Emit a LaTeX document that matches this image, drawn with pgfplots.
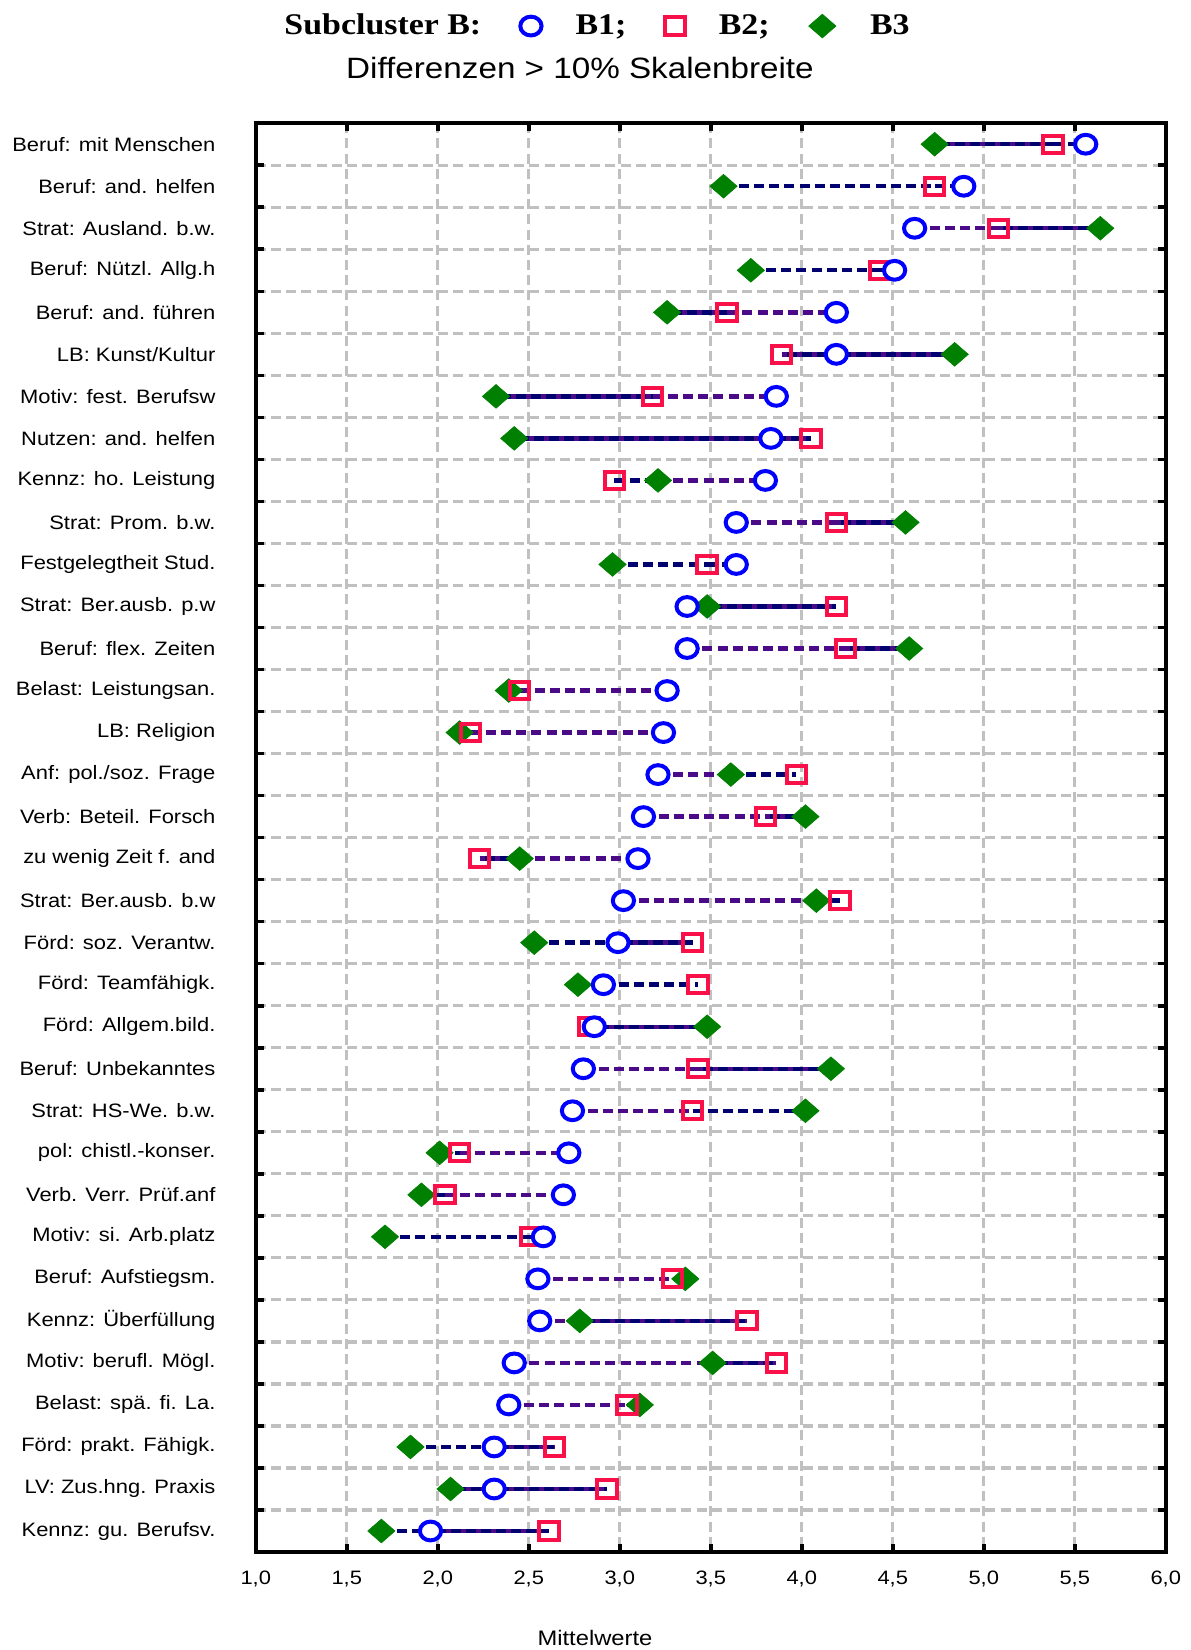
\documentclass[border=0pt]{standalone}
\usepackage{fontspec}
\setmainfont{Liberation Sans}[FakeStretch=1.13]
\newfontfamily\titlefont{Liberation Serif}[FakeStretch=1.13]
\usepackage{pgfplots}
\usepackage{pgfplotstable}
\pgfplotsset{compat=1.18}

\definecolor{cBone}{RGB}{0,0,255}
\definecolor{cBtwo}{RGB}{250,16,72}
\definecolor{cBthree}{RGB}{0,128,0}
\definecolor{lnavy}{RGB}{0,0,112}
\definecolor{lpurple}{RGB}{75,10,135}
\definecolor{gridgray}{RGB}{192,192,192}

% mean values per item and subcluster
\pgfplotstableread{
row B1 B2 B3
1 5.56 5.38 4.73
2 4.89 4.73 3.57
3 4.62 5.08 5.64
4 4.51 4.43 3.72
5 4.19 3.59 3.26
6 4.19 3.89 4.84
7 3.86 3.18 2.32
8 3.83 4.05 2.42
9 3.80 2.97 3.21
10 3.64 4.19 4.57
11 3.64 3.48 2.96
12 3.37 4.19 3.48
13 3.37 4.24 4.59
14 3.26 2.45 2.39
15 3.24 2.18 2.12
16 3.21 3.97 3.61
17 3.13 3.80 4.02
18 3.10 2.23 2.45
19 3.02 4.21 4.08
20 2.99 3.40 2.53
21 2.91 3.43 2.77
22 2.86 2.83 3.48
23 2.80 3.43 4.16
24 2.74 3.40 4.02
25 2.72 2.12 2.01
26 2.69 2.04 1.91
27 2.58 2.51 1.71
28 2.55 3.29 3.36
29 2.56 3.70 2.78
30 2.42 3.86 3.51
31 2.39 3.04 3.11
32 2.31 2.64 1.85
33 2.31 2.93 2.07
34 1.96 2.61 1.69
}\means

% connecting segments, dashed navy
\pgfplotstableread{
x y
5.38 1
5.56 1
nan nan
3.57 2
4.73 2
nan nan
4.73 2
4.89 2
nan nan
3.72 4
4.43 4
nan nan
4.43 4
4.51 4
nan nan
2.97 9
3.21 9
nan nan
2.96 11
3.48 11
nan nan
3.48 11
3.64 11
nan nan
3.37 12
3.48 12
nan nan
2.39 14
2.45 14
nan nan
2.12 15
2.18 15
nan nan
3.61 16
3.97 16
nan nan
4.08 19
4.21 19
nan nan
2.53 20
2.99 20
nan nan
2.77 21
2.91 21
nan nan
2.91 21
3.43 21
nan nan
2.83 22
2.86 22
nan nan
3.40 24
4.02 24
nan nan
2.01 25
2.12 25
nan nan
1.91 26
2.04 26
nan nan
1.71 27
2.51 27
nan nan
2.51 27
2.58 27
nan nan
3.29 28
3.36 28
nan nan
3.04 31
3.11 31
nan nan
1.85 32
2.31 32
nan nan
1.69 34
1.96 34
}\segN

% connecting segments, dashed purple
\pgfplotstableread{
x y
4.62 3
5.08 3
nan nan
3.59 5
4.19 5
nan nan
3.18 7
3.86 7
nan nan
3.21 9
3.80 9
nan nan
3.64 10
4.19 10
nan nan
3.37 13
4.24 13
nan nan
2.45 14
3.26 14
nan nan
2.18 15
3.24 15
nan nan
3.21 16
3.61 16
nan nan
3.13 17
3.80 17
nan nan
2.45 18
3.10 18
nan nan
3.02 19
4.08 19
nan nan
2.80 23
3.43 23
nan nan
2.74 24
3.40 24
nan nan
2.12 25
2.72 25
nan nan
2.04 26
2.69 26
nan nan
2.55 28
3.29 28
nan nan
2.56 29
2.78 29
nan nan
2.42 30
3.51 30
nan nan
2.39 31
3.04 31
}\segP

% connecting segments where two lines overlap (appear solid)
\pgfplotstableread{
x y
4.73 1
5.38 1
nan nan
5.08 3
5.64 3
nan nan
3.26 5
3.59 5
nan nan
3.89 6
4.19 6
nan nan
4.19 6
4.84 6
nan nan
2.32 7
3.18 7
nan nan
2.42 8
3.83 8
nan nan
3.83 8
4.05 8
nan nan
4.19 10
4.57 10
nan nan
3.48 12
4.19 12
nan nan
4.24 13
4.59 13
nan nan
3.80 17
4.02 17
nan nan
2.23 18
2.45 18
nan nan
2.99 20
3.40 20
nan nan
2.86 22
3.48 22
nan nan
3.43 23
4.16 23
nan nan
2.78 29
3.70 29
nan nan
3.51 30
3.86 30
nan nan
2.31 32
2.64 32
nan nan
2.07 33
2.31 33
nan nan
2.31 33
2.93 33
nan nan
1.96 34
2.61 34
}\segS

\pgfplotsset{
  bonemark/.style={only marks, mark=*, mark size=4.7pt,
    mark options={draw=cBone, fill=white, line width=2pt, xscale=1.13}},
  btwomark/.style={only marks, mark=square, mark size=4.3pt,
    mark options={draw=cBtwo, line width=2pt, xscale=1.13}},
  bthreemark/.style={only marks, mark=square*, mark size=4.2pt,
    mark options={draw=cBthree, fill=cBthree, line width=0.3pt, xscale=1.15, rotate=45}},
  seg/.style={line width=2.2pt, unbounded coords=jump, forget plot},
}

\begin{document}
\begin{tikzpicture}
\useasboundingbox (-127.9pt,-49pt) rectangle (467.1pt,776pt);
\begin{axis}[
  at={(0pt,0pt)}, anchor=south west,
  width=455pt, height=714.4pt, scale only axis,
  clip=false,
  xmin=1, xmax=6, ymin=0.5, ymax=34.5, y dir=reverse,
  xtick={1,1.5,...,6},
  ytick={1.5,2.5,...,33.5},
  yticklabels={},
  extra y ticks={1,2,...,34},
  extra y tick labels={Beruf: mit Menschen, Beruf: and. helfen, Strat: Ausland. b.w., Beruf: Nützl. Allg.h, Beruf: and. führen, LB: Kunst/Kultur, Motiv: fest. Berufsw, Nutzen: and. helfen, Kennz: ho. Leistung, Strat: Prom. b.w., Festgelegtheit Stud., Strat: Ber.ausb. p.w, Beruf: flex. Zeiten, Belast: Leistungsan., LB: Religion, Anf: pol./soz. Frage, Verb: Beteil. Forsch, zu wenig Zeit f. and, Strat: Ber.ausb. b.w, Förd: soz. Verantw., Förd: Teamfähigk., Förd: Allgem.bild., Beruf: Unbekanntes, Strat: HS-We. b.w., pol: chistl.-konser., Verb. Verr. Prüf.anf, Motiv: si. Arb.platz, Beruf: Aufstiegsm., Kennz: Überfüllung, Motiv: berufl. Mögl., Belast: spä. fi. La., Förd: prakt. Fähigk., LV: Zus.hng. Praxis, Kennz: gu. Berufsv.},
  extra y tick style={major tick length=0pt, tick style={draw opacity=0}, grid=none},
  xmajorgrids, ymajorgrids,
  grid style={gridgray, line width=1.6pt, dash pattern=on 5pt off 2.6pt},
  axis line style={black, line width=1.8pt},
  tick align=inside,
  major tick length=4pt,
  tick style={black, line width=1.8pt},
  xticklabel style={font=\fontsize{9.7}{11}\selectfont, inner sep=0pt, yshift=-9.5pt,
    /pgf/number format/fixed, /pgf/number format/fixed zerofill,
    /pgf/number format/precision=1, /pgf/number format/use comma,
    /pgf/number format/assume math mode=true},
  yticklabel style={font=\fontsize{9.7}{11}\selectfont, anchor=east, inner sep=0pt, xshift=-20pt},
  xlabel={Mittelwerte},
  xlabel style={at={(axis description cs:0.3727,-0.0602)}, anchor=center, font=\fontsize{10.5}{12}\selectfont},
  legend columns=-1,
  legend style={draw=none, fill=none, at={(0.3585,1.0680)}, anchor=center,
    font=\titlefont\bfseries\fontsize{15}{17}\selectfont,
    /tikz/every odd column/.append style={column sep=15pt},
    /tikz/every even column/.append style={column sep=17.5pt}},
]
% connecting lines
\addplot[seg, lnavy, dash pattern=on 5pt off 2.6pt] table[x=x, y=y] {\segN};
\addplot[seg, lpurple, dash pattern=on 5pt off 2.6pt] table[x=x, y=y] {\segP};
\addplot[seg, lnavy, solid] table[x=x, y=y] {\segS};
\addplot[seg, lpurple, dash pattern=on 2.5pt off 5pt] table[x=x, y=y] {\segS};
% subcluster means
\addplot[bthreemark, forget plot] table[x=B3, y=row] {\means};
\addplot[btwomark, forget plot] table[x=B2, y=row] {\means};
\addplot[bonemark, forget plot] table[x=B1, y=row] {\means};
% legend row
\addlegendimage{empty legend}
\addlegendentry{Subcluster B:}
\addlegendimage{bonemark}
\addlegendentry{B1;}
\addlegendimage{btwomark}
\addlegendentry{B2;}
\addlegendimage{bthreemark}
\addlegendentry{B3}
\end{axis}
\node[font=\fontsize{14.7}{17}\selectfont] at (162.1pt,742pt) {Differenzen > 10\% Skalenbreite};
\end{tikzpicture}
\end{document}
